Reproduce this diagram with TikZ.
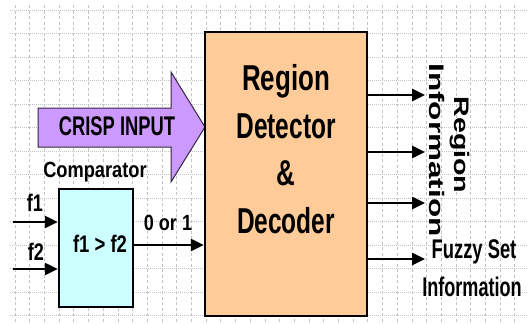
\documentclass[tikz,border=0pt]{standalone}
\usepackage{fontspec}
\setmainfont{Liberation Sans}
\usepackage{graphicx}
\usetikzlibrary{arrows.meta}
\definecolor{peach}{HTML}{FFCC99}
\definecolor{lcyan}{HTML}{CCFFFF}
\definecolor{lav}{HTML}{CC99FF}
\definecolor{gridc}{HTML}{C4C4C4}
\newcommand\cx[2]{\scalebox{#1}[1]{#2}}
\begin{document}
\begin{tikzpicture}[x=1pt,y=-1pt,
  box/.style={draw=black,line width=2.5pt,inner sep=0pt},
  lbl/.style={inner sep=0pt,anchor=base},
  big/.style={lbl,font=\bfseries\fontsize{36}{40}\selectfont},
  mid/.style={lbl,font=\bfseries\fontsize{24}{28}\selectfont},
  sml/.style={lbl,font=\bfseries\fontsize{22}{26}\selectfont},
  rot/.style={rotate=-90,inner sep=0pt,font=\bfseries\fontsize{21}{22}\selectfont},
  sig/.style={line width=2.5pt,-{Triangle[length=13pt,width=12pt]}},
  hgrid/.style={gridc,line width=0.8pt,dash pattern=on 1pt off 1pt},
  vgrid/.style={gridc,line width=0.8pt,dash pattern=on 3pt off 2.5pt},
]
\useasboundingbox[fill=white] (0,0) rectangle (528,324);
% grid
\foreach \i in {0,...,34} \draw[vgrid] (15+14.7*\i,5) -- (15+14.7*\i,324);
\foreach \i in {0,...,13} \draw[hgrid] (10,10+23.5*\i) -- (528,10+23.5*\i);

% crisp input arrow
\path[draw=black!75!lav,line width=1pt,fill=lav]
  (38,108) -- (171,108) -- (171,72) -- (205,127) -- (171,182) -- (171,147) -- (38,147) -- cycle;
\node[lbl,font=\bfseries\fontsize{27}{30}\selectfont] (crisp) at (117,135) {\cx{0.68}{CRISP INPUT}};

% main block
\node[box,fill=peach,minimum width=162pt,minimum height=284pt] (det) at (286,174) {};
\node[big] (t1) at (286,90) {\cx{0.72}{Region}};
\node[big] (t2) at (286,138) {\cx{0.68}{Detector}};
\node[big] (t3) at (286,185) {\cx{0.72}{\&}};
\node[big] (t4) at (286,233) {\cx{0.68}{Decoder}};

% comparator
\node[box,fill=lcyan,minimum width=74pt,minimum height=118pt] (cmp) at (96,248) {};
\node[sml] (cmplbl) at (95,177) {\cx{0.83}{Comparator}};
\node[mid] (cmptxt) at (100,252) {\cx{0.77}{f1 > f2}};
\node[mid] (f1) at (35,211) {\cx{0.75}{f1}};
\node[mid] (f2) at (36,260) {\cx{0.75}{f2}};
\node[sml] (bit) at (168,230) {\cx{0.82}{0 or 1}};

\coordinate (f1s) at (13,222);
\coordinate (f2s) at (13,269);
\draw[sig] (f1s) -- (f1s -| cmp.west);
\draw[sig] (f2s) -- (f2s -| cmp.west);
\draw[sig] (cmp.east |- 0,245) -- (det.west |- 0,245);

% outputs
\foreach \y [count=\k] in {95,152,203,259}{
  \coordinate (r\k) at (425,\y);
  \draw[sig] (det.east |- r\k) -- (r\k);
}
\node[rot] (ri1) at (460,145) {\cx{1.36}{Region}};
\node[rot] (ri2) at (437,150) {\cx{1.5}{Information}};
\node[lbl,font=\bfseries\fontsize{27}{30}\selectfont] (fz1) at (474,258) {\cx{0.68}{Fuzzy Set}};
\node[lbl,font=\bfseries\fontsize{27}{30}\selectfont] (fz2) at (472,296) {\cx{0.67}{Information}};
\end{tikzpicture}
\end{document}
